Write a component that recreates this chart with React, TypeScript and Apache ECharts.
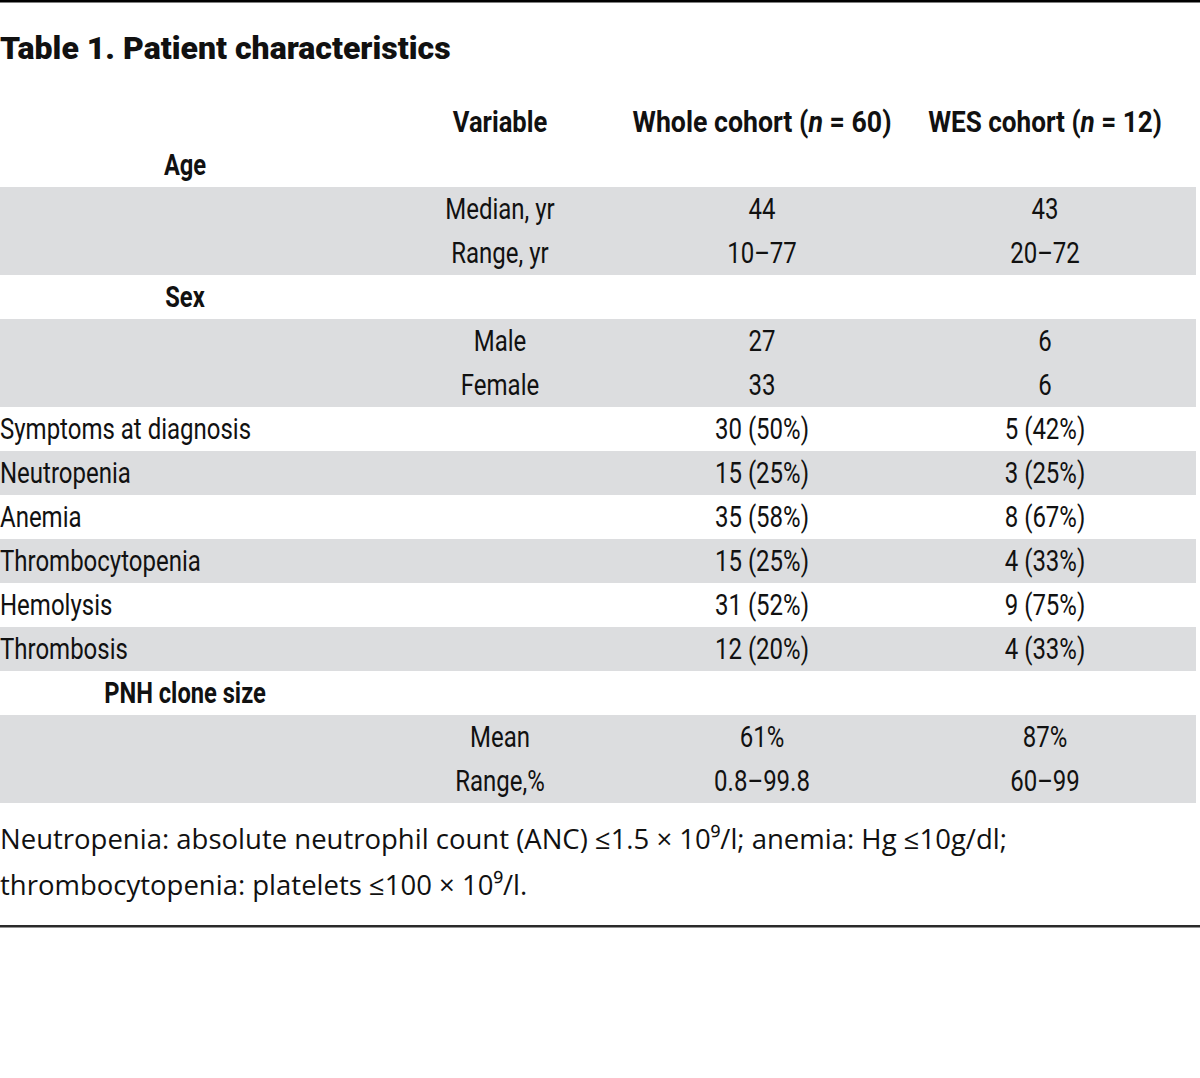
import React, { useEffect, useRef } from "react";
import * as echarts from "echarts";

const title = "Table 1. Patient characteristics";
const headers = ["Variable", "Whole cohort ({i|n} = 60)", "WES cohort ({i|n} = 12)"];
const rowNames = ["Age", "", "", "Sex", "", "", "Symptoms at diagnosis", "Neutropenia", "Anemia", "Thrombocytopenia", "Hemolysis", "Thrombosis", "PNH clone size", "", ""];
const sectionRows = [true, false, false, true, false, false, false, false, false, false, false, false, true, false, false];
const variables = ["", "Median, yr", "Range, yr", "", "Male", "Female", "", "", "", "", "", "", "", "Mean", "Range,%"];
const wholeCohort = ["", "44", "10–77", "", "27", "33", "30 (50%)", "15 (25%)", "35 (58%)", "15 (25%)", "31 (52%)", "12 (20%)", "", "61%", "0.8–99.8"];
const wesCohort = ["", "43", "20–72", "", "6", "6", "5 (42%)", "3 (25%)", "8 (67%)", "4 (33%)", "9 (75%)", "4 (33%)", "", "87%", "60–99"];
const shaded = [false, true, true, false, true, true, false, true, false, true, false, true, false, true, true];
const footnotes = [
  "Neutropenia: absolute neutrophil count (ANC) ≤1.5 × 10⁹/l; anemia: Hg ≤10g/dl;",
  "thrombocytopenia: platelets ≤100 × 10⁹/l.",
];

export default function App() {
  const ref = useRef<HTMLDivElement>(null);
  useEffect(() => {
    if (!ref.current) return;
    const chart = echarts.init(ref.current, null, { renderer: "svg" });
    const FONT = "Roboto";
    const SX = 0.8;
    const rowH = 44;
    const firstCenter = 165;
    const colVar = 500;
    const colWhole = 762;
    const colWes = 1045;
    const color = "#111";
    const els: any[] = [];

    // top rule
    els.push({ type: "rect", shape: { x: 0, y: 0, width: 1200, height: 2.5 }, style: { fill: "#000" } });
    // bands
    shaded.forEach((s, i) => {
      if (!s) return;
      const top = firstCenter - rowH / 2 + i * rowH;
      els.push({ type: "rect", shape: { x: 0, y: top, width: 1196, height: rowH }, style: { fill: "#dcdddf" } });
    });
    // title
    els.push({
      type: "text", x: 0, y: 48, scaleX: 1.0,
      style: { text: title, fontFamily: FONT, fontWeight: 900, fontSize: 32, fill: color, align: "left", verticalAlign: "middle" },
    });
    // headers
    const headerSX = [0.85, 0.89, 0.87];
    [colVar, colWhole, colWes].forEach((cx, k) => {
      els.push({
        type: "text", x: cx, y: 122, scaleX: headerSX[k],
        style: {
          text: headers[k], fontFamily: FONT, fontWeight: "bold", fontSize: 30, fill: color, align: "center", verticalAlign: "middle",
          rich: { i: { fontFamily: FONT, fontWeight: "bold", fontStyle: "italic", fontSize: 30, fill: color } },
        },
      });
    });
    // rows
    rowNames.forEach((name, i) => {
      const cy = firstCenter + i * rowH;
      if (name) {
        const sec = sectionRows[i];
        els.push({
          type: "text", x: sec ? 185 : 0, y: cy, scaleX: sec ? 0.79 : SX,
          style: { text: name, fontFamily: FONT, fontWeight: sec ? "bold" : "normal", fontSize: 30, fill: color, align: sec ? "center" : "left", verticalAlign: "middle" },
        });
      }
      [[variables[i], colVar], [wholeCohort[i], colWhole], [wesCohort[i], colWes]].forEach(([t, cx]) => {
        if (!t) return;
        els.push({
          type: "text", x: cx as number, y: cy, scaleX: SX,
          style: { text: t as string, fontFamily: FONT, fontSize: 30, fill: color, align: "center", verticalAlign: "middle" },
        });
      });
    });
    // footnotes
    footnotes.forEach((f, k) => {
      els.push({
        type: "text", x: 0, y: 838 + k * 46, scaleX: 1.0,
        style: { text: f, fontFamily: "Open Sans", fontSize: 27.5, fill: color, align: "left", verticalAlign: "middle" },
      });
    });
    // bottom rule
    els.push({ type: "rect", shape: { x: 0, y: 925, width: 1200, height: 2.5 }, style: { fill: "#2a2a2a" } });

    chart.setOption({ animation: false, backgroundColor: "#fff", graphic: { elements: els } });
    return () => chart.dispose();
  }, []);
  return <div ref={ref} style={{ position: "fixed", left: 0, top: 0, width: 1200, height: 1078 }} />;
}
